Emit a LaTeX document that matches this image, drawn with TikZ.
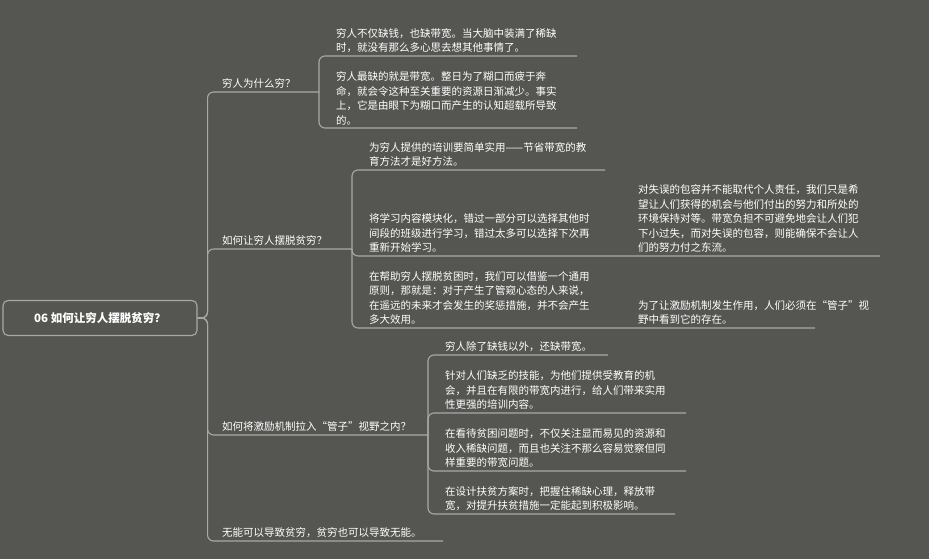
\documentclass[tikz,border=0pt]{standalone}
\usepackage{fontspec}
\setmainfont{Noto Sans CJK SC}
\definecolor{bgc}{HTML}{555652}
\definecolor{linec}{HTML}{A8A8A8}
\tikzset{
  txt/.style={anchor=south west, inner xsep=0pt, inner ysep=3pt, align=left,
    text=white, font=\fontsize{10.5}{14.5}\selectfont},
  link/.style={draw=linec, line width=1.1pt, rounded corners=6pt}
}
\begin{document}
\begin{tikzpicture}[x=1pt,y=-1pt]
    % Hintergrund
    \fill[bgc] (0,0) rectangle (929,559);
    \useasboundingbox (0,0) rectangle (929,559);

    % Wurzel
    \node[draw=linec, line width=1.1pt, rounded corners=5pt, text=white, minimum width=194pt, minimum height=35pt,
      font=\fontsize{11.5}{14}\selectfont\bfseries] (root) at (100,318) {06 如何让穷人摆脱贫穷？};

    % Ebene 1
    \node[txt] (q1) at (222,92) {穷人为什么穷？};
    \node[txt] (q2) at (222,249) {如何让穷人摆脱贫穷？};
    \node[txt] (q3) at (222,435) {如何将激励机制拉入“管子”视野之内？};
    \node[txt] (q4) at (222,541) {无能可以导致贫穷，贫穷也可以导致无能。};
    \coordinate (e1) at (319,92);
    \coordinate (e2) at (352,249);
    \coordinate (e3) at (428,435);
    \coordinate (e4) at (443,541);
    \foreach \e in {e1,e2,e3,e4}
      \draw[link] (root.east) -- ++(10,0) |- (\e);

    % Ebene 2:穷人为什么穷
    \node[txt] (a1) at (336,56) {穷人不仅缺钱，也缺带宽。当大脑中装满了稀缺\\时，就没有那么多心思去想其他事情了。};
    \node[txt] (a2) at (336,128) {穷人最缺的就是带宽。整日为了糊口而疲于奔\\命，就会令这种至关重要的资源日渐减少。事实\\上，它是由眼下为糊口而产生的认知超载所导致\\的。};
    \draw[link] (e1) |- (577,56);
    \draw[link] (e1) |- (577,128);

    % Ebene 2: 如何让穷人摆脱贫穷
    \node[txt] (b1) at (369,170) {为穷人提供的培训要简单实用——节省带宽的教\\育方法才是好方法。};
    \node[txt] (b2) at (369,256) {将学习内容模块化，错过一部分可以选择其他时\\间段的班级进行学习，错过太多可以选择下次再\\重新开始学习。};
    \node[txt] (b3) at (369,328) {在帮助穷人摆脱贫困时，我们可以借鉴一个通用\\原则，那就是：对于产生了管窥心态的人来说，\\在遥远的未来才会发生的奖惩措施，并不会产生\\多大效用。};
    \draw[link] (e2) |- (605,170);
    \draw[link] (e2) |- (880,256);
    \draw[link] (e2) |- (815,328);
    \node[txt] (b21) at (638,256) {对失误的包容并不能取代个人责任，我们只是希\\望让人们获得的机会与他们付出的努力和所处的\\环境保持对等。带宽负担不可避免地会让人们犯\\下小过失，而对失误的包容，则能确保不会让人\\们的努力付之东流。};
    \node[txt] (b31) at (638,328) {为了让激励机制发生作用，人们必须在“管子”视\\野中看到它的存在。};

    % Ebene 2: 激励机制
    \node[txt] (c1) at (445,355) {穷人除了缺钱以外，还缺带宽。};
    \node[txt] (c2) at (445,413) {针对人们缺乏的技能，为他们提供受教育的机\\会，并且在有限的带宽内进行，给人们带来实用\\性更强的培训内容。};
    \node[txt] (c3) at (445,471) {在看待贫困问题时，不仅关注显而易见的资源和\\收入稀缺问题，而且也关注不那么容易觉察但同\\样重要的带宽问题。};
    \node[txt] (c4) at (445,514) {在设计扶贫方案时，把握住稀缺心理，释放带\\宽，对提升扶贫措施一定能起到积极影响。};
    \draw[link] (e3) |- (608,355);
    \draw[link] (e3) |- (686,413);
    \draw[link] (e3) |- (686,471);
    \draw[link] (e3) |- (675,514);
\end{tikzpicture}
\end{document}
